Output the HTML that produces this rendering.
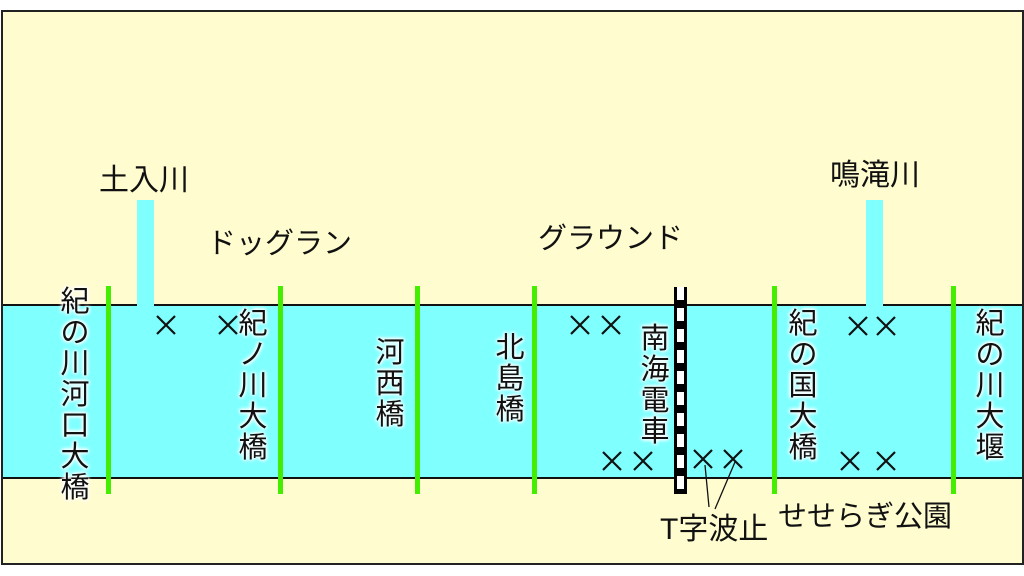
<!DOCTYPE html>
<html><head><meta charset="utf-8"><style>
body{margin:0;width:1024px;height:576px;background:#fff;position:relative;overflow:hidden;font-family:"Liberation Sans","Noto Sans CJK JP",sans-serif;}
.a{position:absolute}
.t{position:absolute;font-size:29px;color:#111;line-height:1;white-space:nowrap}
.v{position:absolute;font-size:29px;color:#111;line-height:31px;width:30px;text-align:center;text-shadow:0 0 3px #fff,0 0 3px #fff,0 0 5px #fff,0 0 5px #fff}
.g{position:absolute;background:#44ee00;width:5px;top:286px;height:208px}
</style></head><body>
<div class="a" style="left:1px;top:10px;width:1019px;height:551px;border:2px solid #222;background:#fffcd0"></div>
<div class="a" style="left:3px;top:304px;width:1019px;height:171px;background:#80ffff;border-top:2px solid #111;border-bottom:2px solid #111"></div>
<div class="a" style="left:137px;top:200px;width:17px;height:106px;background:#80ffff"></div>
<div class="a" style="left:866px;top:200px;width:17px;height:106px;background:#80ffff"></div>
<div class="g" style="left:106px"></div><div class="g" style="left:278px"></div><div class="g" style="left:415px"></div><div class="g" style="left:532px"></div><div class="g" style="left:772px"></div><div class="g" style="left:951px"></div>
<div class="a" style="left:674px;top:287px;width:13px;height:207px;background:repeating-linear-gradient(#fff 0 5px,#fff 5px 13px,#000 13px 21px);border-left:3px solid #000;border-right:3px solid #000;box-sizing:border-box"></div>
<div class="t" style="left:99px;top:166px;font-size:30px">土入川</div>
<div class="t" style="left:207px;top:230px">ドッグラン</div>
<div class="t" style="left:538px;top:225px">グラウンド</div>
<div class="t" style="left:830px;top:161px;font-size:30px">鳴滝川</div>
<div class="t" style="left:660px;top:515px;font-size:30px">T字波止</div>
<div class="t" style="left:778px;top:503px">せせらぎ公園</div>
<div class="v" style="left:60px;top:287px">紀<br>の<br>川<br>河<br>口<br>大<br>橋</div>
<div class="v" style="left:238px;top:309px">紀<br>ノ<br>川<br>大<br>橋</div>
<div class="v" style="left:375px;top:338px">河<br>西<br>橋</div>
<div class="v" style="left:495px;top:333px">北<br>島<br>橋</div>
<div class="v" style="left:640px;top:324px">南<br>海<br>電<br>車</div>
<div class="v" style="left:788px;top:309px">紀<br>の<br>国<br>大<br>橋</div>
<div class="v" style="left:975px;top:309px">紀<br>の<br>川<br>大<br>堰</div>
<svg class="a" style="left:0;top:0" width="1024" height="576" stroke="#111" stroke-width="2.2" fill="none">
<path d="M157 316l18 18M175 316l-18 18 M219 316l18 18M237 316l-18 18 M571 316l18 18M589 316l-18 18 M602 316l18 18M620 316l-18 18 M849 317l18 18M867 317l-18 18 M877 317l18 18M895 317l-18 18 M603 452l18 18M621 452l-18 18 M634 452l18 18M652 452l-18 18 M694 450l18 18M712 450l-18 18 M724 450l18 18M742 450l-18 18 M841 452l18 18M859 452l-18 18 M877 452l18 18M895 452l-18 18"/>
<line x1="705" y1="465" x2="709" y2="507" stroke-width="1.3"/><line x1="735" y1="462" x2="715" y2="509" stroke-width="1.3"/></svg>
</body></html>
